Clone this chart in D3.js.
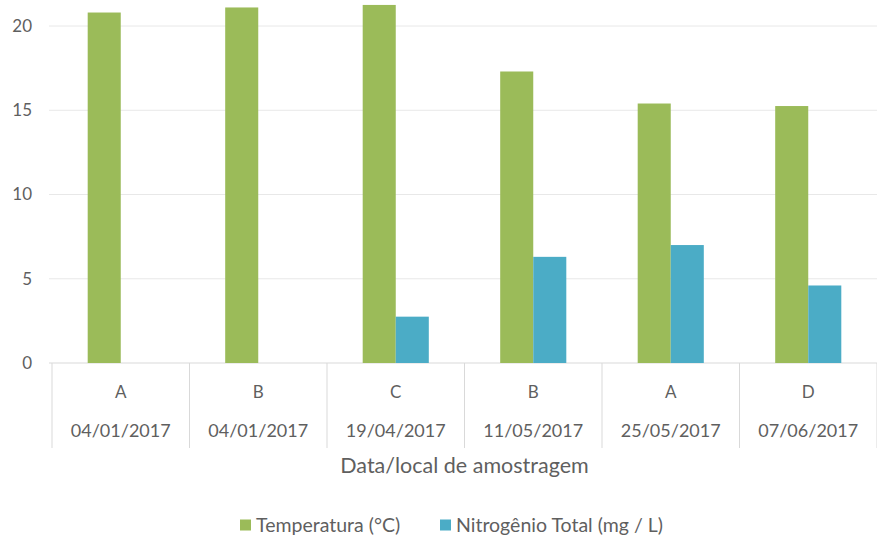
<!DOCTYPE html>
<html>
<head>
<meta charset="utf-8">
<script src="https://cdn.jsdelivr.net/npm/d3@7"></script>
<style>
  body { margin: 0; background: #fff; }
  text { font-family: Lato, "Open Sans", sans-serif; fill: #5f5f5f; }
</style>
</head>
<body>
<svg id="chart" width="877" height="539"></svg>
<script>
// Chart data
const sites = ["A", "B", "C", "B", "A", "D"];
const dates = ["04/01/2017", "04/01/2017", "19/04/2017", "11/05/2017", "25/05/2017", "07/06/2017"];
const temperatura = [20.8, 21.1, 21.25, 17.3, 15.4, 15.25];
const nitrogenio = [null, null, 2.75, 6.3, 7.0, 4.6];
const yTicks = [0, 5, 10, 15, 20];
const seriesNames = ["Temperatura (°C)", "Nitrogênio Total (mg / L)"];
const seriesColors = ["#9bbb59", "#4bacc6"];

const svg = d3.select("#chart");
const plotLeft = 52, plotRight = 877, plotBottom = 363, plotTop = 26;

const x = d3.scaleBand().domain(d3.range(sites.length)).range([plotLeft, plotRight]);
const inner = d3.scaleBand().domain([0, 1]).range([0, x.bandwidth()]).paddingOuter(1.08);
const y = d3.scaleLinear().domain([0, 20]).range([plotBottom, plotTop]);

// gridlines
svg.append("g")
  .selectAll("line")
  .data(yTicks)
  .join("line")
  .attr("x1", plotLeft - 3)
  .attr("x2", plotRight)
  .attr("y1", (d) => y(d))
  .attr("y2", (d) => y(d))
  .attr("stroke", (d) => (d === 0 ? "#d9d9d9" : "#e8e8e8"))
  .attr("stroke-width", 1);

// y tick labels
svg.append("g")
  .selectAll("text")
  .data(yTicks)
  .join("text")
  .attr("x", 32)
  .attr("y", (d) => y(d))
  .attr("dy", "0.35em")
  .attr("text-anchor", "end")
  .style("font-size", "17px")
  .text((d) => d);

// bars
const groups = svg.append("g")
  .selectAll("g")
  .data(sites.map((s, i) => i))
  .join("g")
  .attr("transform", (i) => `translate(${x(i)},0)`);

groups
  .selectAll("rect")
  .data((i) => [temperatura[i], nitrogenio[i]].map((v, k) => ({ v, k })).filter((d) => d.v != null))
  .join("rect")
  .attr("x", (d) => inner(d.k))
  .attr("width", inner.bandwidth())
  .attr("y", (d) => y(d.v))
  .attr("height", (d) => plotBottom - y(d.v))
  .attr("fill", (d) => seriesColors[d.k]);

// category separators
svg.append("g")
  .selectAll("line")
  .data(d3.range(sites.length + 1))
  .join("line")
  .attr("x1", (i) => plotLeft + i * x.bandwidth())
  .attr("x2", (i) => plotLeft + i * x.bandwidth())
  .attr("y1", plotBottom)
  .attr("y2", 448)
  .attr("stroke", "#d9d9d9");

// category labels
svg.append("g")
  .selectAll("text")
  .data(sites)
  .join("text")
  .attr("x", (d, i) => x(i) + x.bandwidth() / 2)
  .attr("y", 392)
  .attr("dy", "0.35em")
  .attr("text-anchor", "middle")
  .style("font-size", "17px")
  .text((d) => d);

svg.append("g")
  .selectAll("text")
  .data(dates)
  .join("text")
  .attr("x", (d, i) => x(i) + x.bandwidth() / 2)
  .attr("y", 431)
  .attr("dy", "0.35em")
  .attr("text-anchor", "middle")
  .style("font-size", "18px")
  .text((d) => d);

// axis title
svg.append("text")
  .attr("x", (plotLeft + plotRight) / 2)
  .attr("y", 465)
  .attr("dy", "0.35em")
  .attr("text-anchor", "middle")
  .style("font-size", "21.5px")
  .text("Data/local de amostragem");

// legend
const legendX = [240, 440];
const legend = svg.append("g")
  .selectAll("g")
  .data(seriesNames)
  .join("g")
  .attr("transform", (d, i) => `translate(${legendX[i]},525)`);

legend.append("rect")
  .attr("x", 0)
  .attr("y", -5.5)
  .attr("width", 11)
  .attr("height", 11)
  .attr("fill", (d, i) => seriesColors[i]);

legend.append("text")
  .attr("x", 16)
  .attr("dy", "0.35em")
  .style("font-size", "19.5px")
  .text((d) => d);
</script>
</body>
</html>
